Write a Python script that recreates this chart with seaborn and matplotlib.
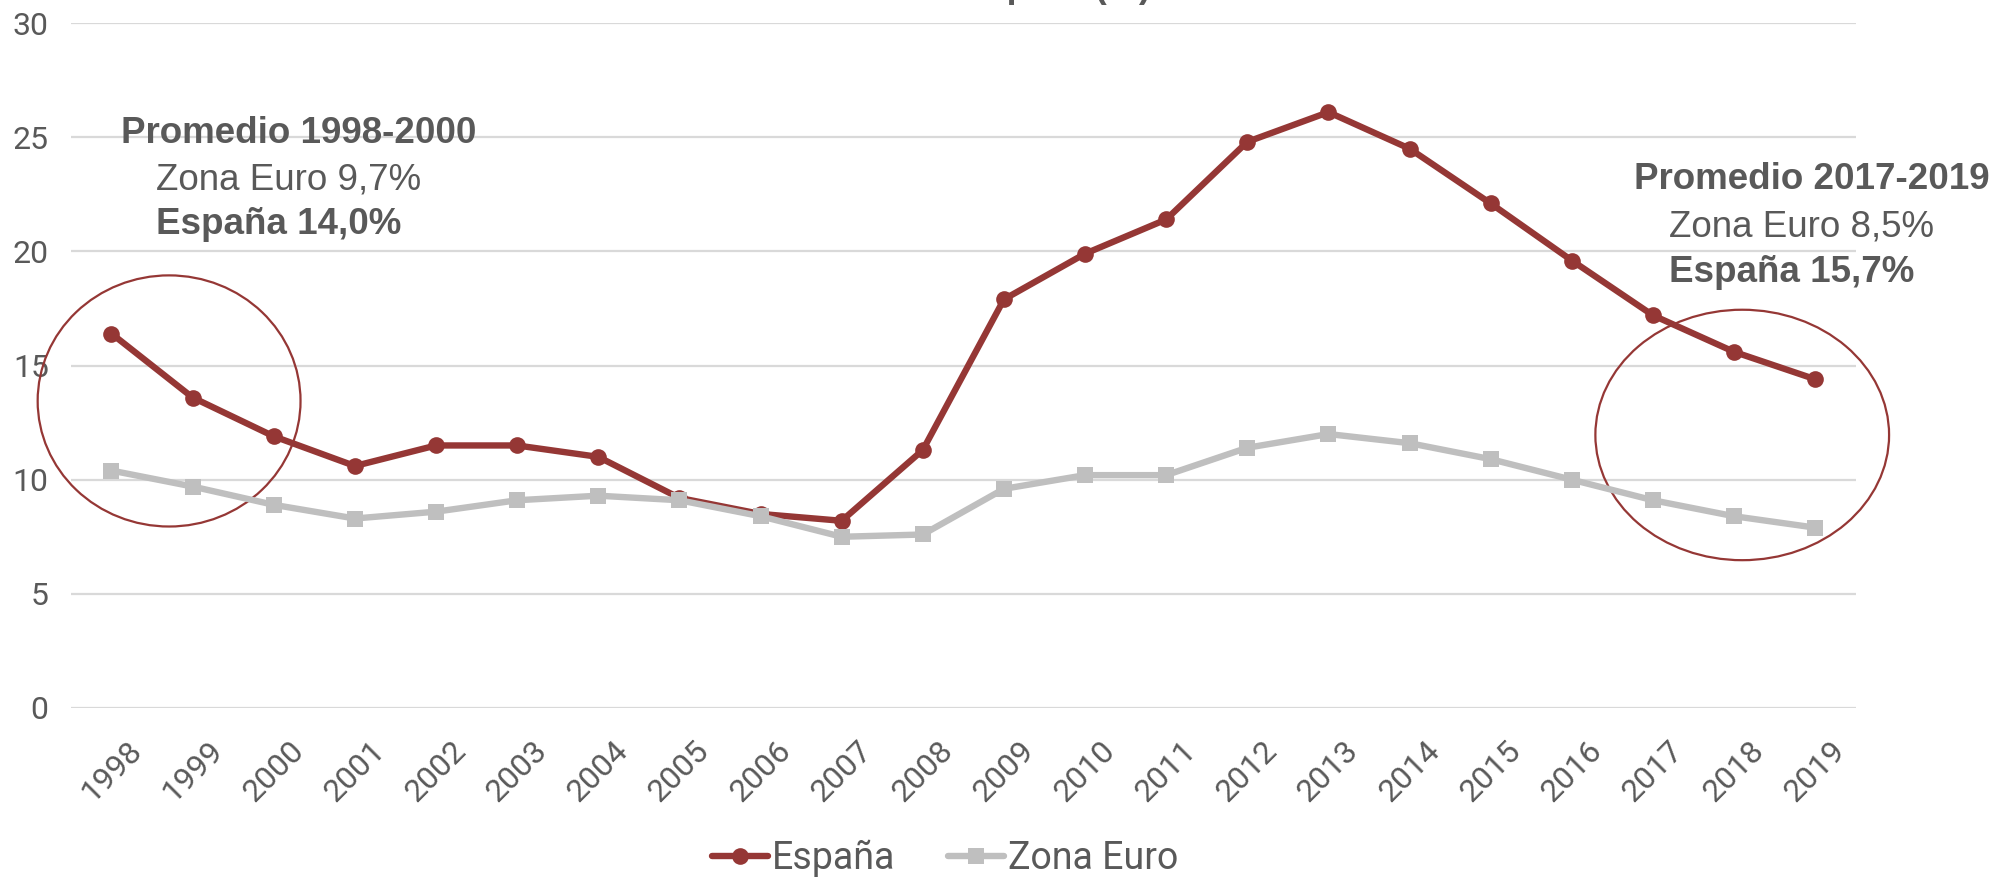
import pandas as pd
import matplotlib.pyplot as plt
import seaborn as sns
from matplotlib.patches import Ellipse

years = [str(y) for y in range(1998, 2020)]
espana = [16.4, 13.6, 11.9, 10.6, 11.5, 11.5, 11.0, 9.2, 8.5, 8.2, 11.3,
          17.9, 19.9, 21.4, 24.8, 26.1, 24.5, 22.1, 19.6, 17.2, 15.6, 14.4]
zona_euro = [10.4, 9.7, 8.9, 8.3, 8.6, 9.1, 9.3, 9.1, 8.4, 7.5, 7.6,
             9.6, 10.2, 10.2, 11.4, 12.0, 11.6, 10.9, 10.0, 9.1, 8.4, 7.9]
yticks = [0, 5, 10, 15, 20, 25, 30]

red = '#953735'
grey = '#BFBFBF'
txt = '#595959'

sns.set_theme(style='white')
plt.rcParams['font.family'] = ['Roboto', 'DejaVu Sans']

df = pd.DataFrame({'Año': years, 'España': espana, 'Zona Euro': zona_euro})

fig = plt.figure(figsize=(20.15, 8.89), dpi=100)
ax = fig.add_axes([0.0352, 0.2036, 0.8858, 0.7704])

sns.lineplot(data=df, x='Año', y='España', ax=ax, color=red, lw=4.6,
             marker='o', markersize=12, markeredgewidth=0, label='España')
sns.lineplot(data=df, x='Año', y='Zona Euro', ax=ax, color=grey, lw=4.6,
             marker='s', markersize=11, markeredgewidth=0, label='Zona Euro')

ax.set_xlim(-0.5, len(years) - 0.5)
ax.set_ylim(0, 30)
ax.set_yticks(yticks)
ax.yaxis.grid(True, color='#D9D9D9', lw=1.6)
ax.set_axisbelow(True)
sns.despine(ax=ax, left=True, bottom=True)
ax.set_xlabel('')
ax.set_ylabel('')
ax.tick_params(axis='y', length=0, pad=16, labelsize=23, labelcolor=txt)
ax.tick_params(axis='x', length=0, pad=20, labelsize=23, labelcolor=txt)
plt.setp(ax.get_xticklabels(), rotation=45, ha='center')

# title sits mostly above the canvas, as in the source image
fig.text(0.5, 1.003, 'Tasa de paro (%)', ha='center', va='baseline', fontsize=26,
         family='Liberation Sans', weight='bold', color=txt)

# circles around the averaged periods
ax.add_patch(Ellipse((0.71, 13.45), 3.24, 11.0, fill=False, ec=red, lw=1.6, clip_on=False))
ax.add_patch(Ellipse((20.1, 11.96), 3.62, 10.97, fill=False, ec=red, lw=1.6, clip_on=False))

fs = 26.5
lib = 'Liberation Sans'
ax.text(0.12, 25.15, 'Promedio 1998-2000', fontsize=fs, family=lib, weight='bold', color=txt, va='center')
ax.text(0.55, 23.13, 'Zona Euro 9,7%', fontsize=fs, family=lib, color=txt, va='center')
ax.text(0.55, 21.2, 'España 14,0%', fontsize=fs, family=lib, weight='bold', color=txt, va='center')
ax.text(18.77, 23.13, 'Promedio 2017-2019', fontsize=fs, family=lib, weight='bold', color=txt, va='center', clip_on=False)
ax.text(19.2, 21.05, 'Zona Euro 8,5%', fontsize=fs, family=lib, color=txt, va='center', clip_on=False)
ax.text(19.2, 19.08, 'España 15,7%', fontsize=fs, family=lib, weight='bold', color=txt, va='center', clip_on=False)

ax.get_legend().remove()
handles, labels = ax.get_legend_handles_labels()
leg = fig.legend(handles, labels, loc='lower center', bbox_to_anchor=(0.469, -0.025), ncol=2,
                 frameon=False, fontsize=27, handlelength=1.5, handletextpad=0.1, columnspacing=1.4)
for t in leg.get_texts():
    t.set_color(txt)

fig.savefig('out.png', dpi=100)
